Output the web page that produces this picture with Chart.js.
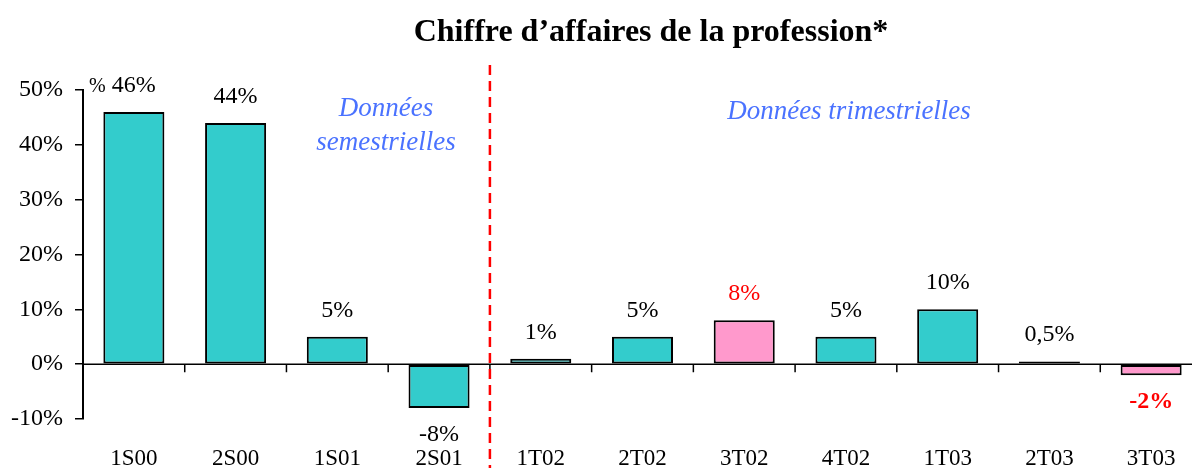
<!DOCTYPE html>
<html>
<head>
<meta charset="utf-8">
<script src="https://cdn.jsdelivr.net/npm/chart.js@4.4.1/dist/chart.umd.min.js"></script>
<style>
  html, body { margin: 0; padding: 0; background: #fff; overflow: hidden; }
  canvas { display: block; }
</style>
</head>
<body>
<canvas id="myChart" width="1202" height="468"></canvas>
<script>
// periodes : semestres puis trimestres
const categories = ['1S00', '2S00', '1S01', '2S01', '1T02', '2T02', '3T02', '4T02', '1T03', '2T03', '3T03'];
const values = [46, 44, 5, -8, 1, 5, 8, 5, 10, 0.5, -2];
const valueLabels = ['46%', '44%', '5%', '-8%', '1%', '5%', '8%', '5%', '10%', '0,5%', '-2%'];
const highlighted = ['3T02', '3T03'];
const boldLabels = ['3T03'];
const yMin = -10;
const yMax = 50;
const yStep = 10;
const splitAfter = '2S01';

const serif = '"Liberation Serif", "Times New Roman", serif';

const decorations = {
    id: 'decorations',
    afterDatasetsDraw(chart) {
        const ctx = chart.ctx;
        const x = chart.scales.x;
        const y = chart.scales.y;
        const area = chart.chartArea;
        const y0 = y.getPixelForValue(0);
        const step = x.getPixelForValue(1) - x.getPixelForValue(0);

        ctx.save();
        // ligne du zero + petites graduations
        ctx.strokeStyle = '#000';
        ctx.lineWidth = 1.5;
        ctx.beginPath();
        ctx.moveTo(area.left, y0);
        ctx.lineTo(chart.width, y0);
        for (let i = 1; i <= categories.length; i++) {
            const bx = x.getPixelForValue(i) - step / 2;
            ctx.moveTo(bx, y0);
            ctx.lineTo(bx, y0 + 8);
        }
        ctx.stroke();

        // separation semestres / trimestres
        const idx = categories.indexOf(splitAfter);
        const sx = x.getPixelForValue(idx) + step / 2;
        ctx.strokeStyle = '#ff0000';
        ctx.lineWidth = 2.5;
        ctx.setLineDash([10, 6]);
        ctx.beginPath();
        ctx.moveTo(sx, 65);
        ctx.lineTo(sx, chart.height);
        ctx.stroke();
        ctx.setLineDash([]);

        // etiquettes des valeurs
        const meta = chart.getDatasetMeta(0);
        ctx.textAlign = 'center';
        meta.data.forEach((bar, i) => {
            const red = highlighted.includes(categories[i]);
            const bold = boldLabels.includes(categories[i]);
            ctx.fillStyle = red ? '#ff0000' : '#000';
            ctx.font = (bold ? 'bold ' : '') + '24px ' + serif;
            if (values[i] >= 0) {
                ctx.textBaseline = 'alphabetic';
                ctx.fillText(valueLabels[i], bar.x, bar.y - 20);
            } else {
                ctx.textBaseline = 'top';
                ctx.fillText(valueLabels[i], bar.x, bar.y + 15);
            }
        });

        // titre
        ctx.fillStyle = '#000';
        ctx.font = 'bold 32px ' + serif;
        ctx.textBaseline = 'alphabetic';
        ctx.fillText('Chiffre d\u2019affaires de la profession*', 651, 41);

        // unite
        ctx.font = '20px ' + serif;
        ctx.textAlign = 'left';
        ctx.fillText('%', 89, 92);

        // commentaires
        ctx.fillStyle = '#4a72ff';
        ctx.font = 'italic 27px ' + serif;
        ctx.textAlign = 'center';
        ctx.fillText('Donn\u00e9es', 386, 116);
        ctx.fillText('semestrielles', 386, 150);
        ctx.fillText('Donn\u00e9es trimestrielles', 849, 119);
        ctx.restore();
    }
};

const ctx = document.getElementById('myChart');

new Chart(ctx, {
    type: 'bar',
    data: {
        labels: categories,
        datasets: [{
            data: values,
            backgroundColor: categories.map(c => highlighted.includes(c) ? '#ff99cc' : '#33cccc'),
            borderColor: '#000',
            borderWidth: 2,
            borderSkipped: false,
            barPercentage: 0.6,
            categoryPercentage: 1
        }]
    },
    options: {
        responsive: false,
        animation: false,
        devicePixelRatio: 1,
        layout: { padding: { top: 90, left: 0, right: 0, bottom: 0 } },
        plugins: {
            legend: { display: false },
            tooltip: { enabled: false }
        },
        scales: {
            x: {
                grid: { display: false, drawTicks: false },
                border: { display: false },
                ticks: { color: '#000', font: { family: serif, size: 23 }, padding: 26, maxRotation: 0 },
                afterFit(scale) { scale.height = 49; }
            },
            y: {
                min: yMin,
                max: yMax,
                ticks: {
                    stepSize: yStep,
                    color: '#000',
                    font: { family: serif, size: 24 },
                    padding: 12,
                    callback: v => v + '%'
                },
                grid: { drawOnChartArea: false, tickLength: 8, color: '#000', lineWidth: 1.5 },
                border: { display: true, color: '#000', width: 2 },
                afterFit(scale) { scale.width = 83; }
            }
        }
    },
    plugins: [decorations]
});
</script>
</body>
</html>
